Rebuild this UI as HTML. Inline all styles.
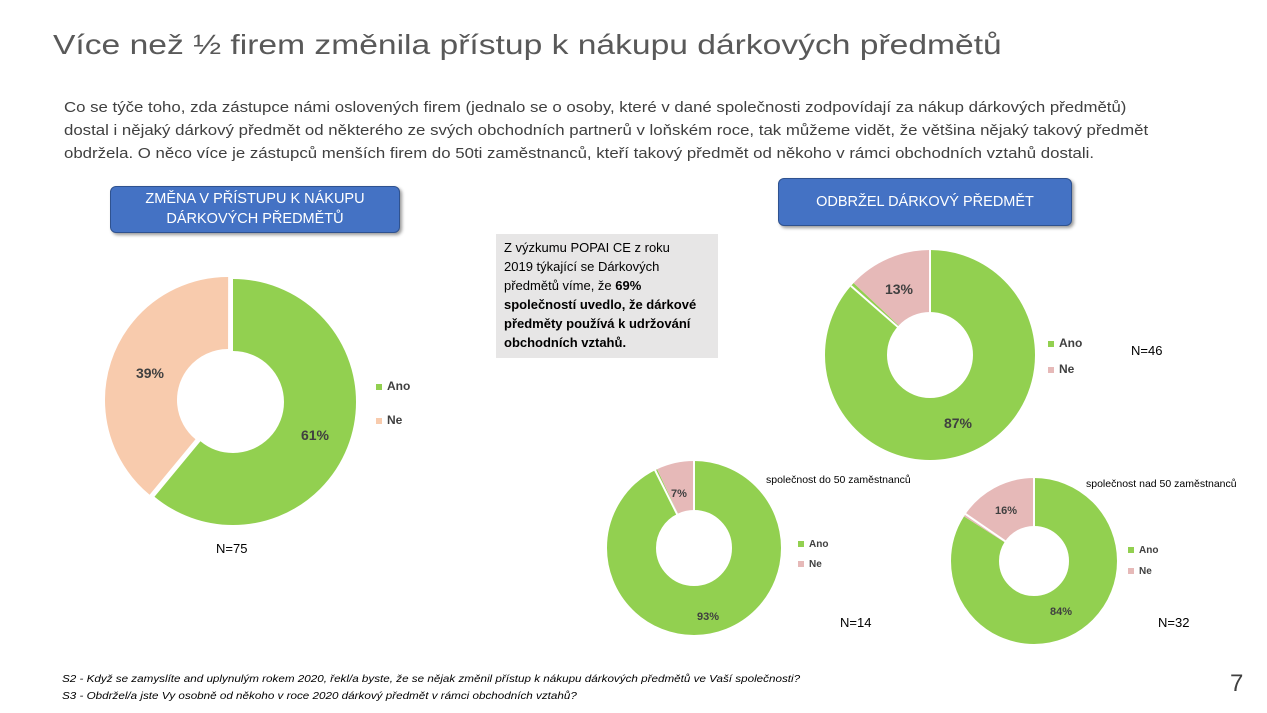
<!DOCTYPE html>
<html><head><meta charset="utf-8"><style>
body{margin:0;width:1267px;height:713px;background:#fff;font-family:"Liberation Sans",sans-serif;position:relative;overflow:hidden}
.a{position:absolute;white-space:nowrap}
.box{position:absolute;background:#4472c4;border:1px solid #2f528f;border-radius:6px;color:#fff;text-align:center;font-size:14.5px;box-shadow:2px 2px 3px #999}
.lg{position:absolute;font-size:12px;font-weight:bold;color:#404040}
.lg i{display:inline-block;width:6px;height:6px;margin-right:5px;vertical-align:middle}
</style></head><body>
<div class="a" style="left:53px;top:29px;font-size:28px;color:#595959;transform:scaleX(1.2);transform-origin:0 0">Více než ½ firem změnila přístup k nákupu dárkových předmětů</div>
<div class="a" style="left:64px;top:96px;font-size:15px;line-height:23px;color:#404040;transform:scaleX(1.12);transform-origin:0 0">Co se týče toho, zda zástupce námi oslovených firem (jednalo se o osoby, které v dané společnosti zodpovídají za nákup dárkových předmětů)<br>dostal i nějaký dárkový předmět od některého ze svých obchodních partnerů v loňském roce, tak můžeme vidět, že většina nějaký takový předmět<br>obdržela. O něco více je zástupců menších firem do 50ti zaměstnanců, kteří takový předmět od někoho v rámci obchodních vztahů dostali.</div>
<div class="box" style="left:110px;top:186px;width:290px;height:47px;line-height:20px;padding-top:2px;box-sizing:border-box">ZMĚNA V PŘÍSTUPU K NÁKUPU<br>DÁRKOVÝCH PŘEDMĚTŮ</div>
<div class="box" style="left:778px;top:178px;width:292px;height:46px;line-height:46px">ODBRŽEL DÁRKOVÝ PŘEDMĚT</div>
<div class="a" style="left:496px;top:234px;width:222px;height:124px;background:#e7e6e6;font-size:13px;line-height:19px;color:#000;padding:4px 8px;box-sizing:border-box">Z výzkumu POPAI CE z roku<br>2019 týkající se Dárkových<br>předmětů víme, že <b>69%</b><br><b>společností uvedlo, že dárkové</b><br><b>předměty používá k udržování</b><br><b>obchodních vztahů.</b></div>
<svg class="a" style="left:0;top:0" width="1267" height="713">
<g transform="translate(233,402) rotate(-90)"><circle r="87" fill="none" stroke="#92d050" stroke-width="72" stroke-dasharray="333.4 1000"/></g>
<g transform="translate(228,400) rotate(129.6)"><circle r="87" fill="none" stroke="#f8cbad" stroke-width="72" stroke-dasharray="213.2 1000"/></g>
<g transform="translate(930,355) rotate(-90)"><circle r="74" fill="none" stroke="#92d050" stroke-width="62" stroke-dasharray="404.5 1000"/><circle r="74" fill="none" stroke="#e6b9b8" stroke-width="62" stroke-dasharray="60.5 1000" stroke-dashoffset="-404.5"/></g>
<line x1="930" y1="355" x2="930" y2="248" stroke="#fff" stroke-width="2"/><line x1="930" y1="355" x2="851" y2="286" stroke="#fff" stroke-width="2"/>
<g transform="translate(694,548) rotate(-90)"><circle r="62.5" fill="none" stroke="#92d050" stroke-width="49" stroke-dasharray="365.2 1000"/><circle r="62.5" fill="none" stroke="#e6b9b8" stroke-width="49" stroke-dasharray="27.5 1000" stroke-dashoffset="-365.2"/></g>
<line x1="694" y1="548" x2="694" y2="460" stroke="#fff" stroke-width="2"/><line x1="694" y1="548" x2="655" y2="470" stroke="#fff" stroke-width="2"/>
<g transform="translate(1034,561) rotate(-90)"><circle r="59" fill="none" stroke="#92d050" stroke-width="48" stroke-dasharray="311.4 1000"/><circle r="59" fill="none" stroke="#e6b9b8" stroke-width="48" stroke-dasharray="59.3 1000" stroke-dashoffset="-311.4"/></g>
<line x1="1034" y1="561" x2="1034" y2="476" stroke="#fff" stroke-width="2"/><line x1="1034" y1="561" x2="964" y2="513" stroke="#fff" stroke-width="2"/>
<g font-family="Liberation Sans" font-weight="bold" fill="#404040" text-anchor="middle">
<text x="150" y="378" font-size="14">39%</text><text x="315" y="440" font-size="14">61%</text>
<text x="899" y="294" font-size="14">13%</text><text x="958" y="428" font-size="14">87%</text>
<text x="679" y="497" font-size="11">7%</text><text x="708" y="620" font-size="11">93%</text>
<text x="1006" y="514" font-size="11">16%</text><text x="1061" y="615" font-size="11">84%</text>
</g></svg>
<div class="lg" style="left:376px;top:379px"><i style="background:#92d050"></i>Ano</div>
<div class="lg" style="left:376px;top:413px"><i style="background:#f8cbad"></i>Ne</div>
<div class="lg" style="left:1048px;top:336px"><i style="background:#92d050"></i>Ano</div>
<div class="lg" style="left:1048px;top:362px"><i style="background:#e6b9b8"></i>Ne</div>
<div class="lg" style="left:798px;top:539px;font-size:10px"><i style="background:#92d050"></i>Ano</div>
<div class="lg" style="left:798px;top:559px;font-size:10px"><i style="background:#e6b9b8"></i>Ne</div>
<div class="lg" style="left:1128px;top:545px;font-size:10px"><i style="background:#92d050"></i>Ano</div>
<div class="lg" style="left:1128px;top:566px;font-size:10px"><i style="background:#e6b9b8"></i>Ne</div>
<div class="a" style="left:216px;top:541px;font-size:13px;color:#000">N=75</div>
<div class="a" style="left:1131px;top:343px;font-size:13px;color:#000">N=46</div>
<div class="a" style="left:840px;top:615px;font-size:13px;color:#000">N=14</div>
<div class="a" style="left:1158px;top:615px;font-size:13px;color:#000">N=32</div>
<div class="a" style="left:766px;top:474px;font-size:10.5px;color:#000">společnost do 50 zaměstnanců</div>
<div class="a" style="left:1086px;top:478px;font-size:10.5px;color:#000">společnost nad 50 zaměstnanců</div>
<div class="a" style="left:62px;top:671px;font-size:10.5px;line-height:17px;font-style:italic;color:#000;transform:scaleX(1.11);transform-origin:0 0">S2 - Když se zamyslíte and uplynulým rokem 2020, řekl/a byste, že se nějak změnil přístup k nákupu dárkových předmětů ve Vaší společnosti?<br>S3 - Obdržel/a jste Vy osobně od někoho v roce 2020 dárkový předmět v rámci obchodních vztahů?</div>
<div class="a" style="left:1230px;top:670px;font-size:24px;color:#404040">7</div>
</body></html>
